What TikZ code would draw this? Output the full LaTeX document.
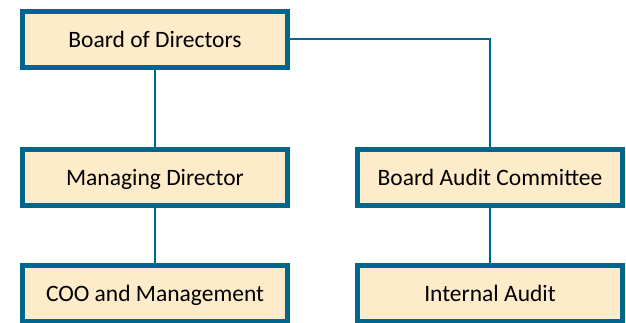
\documentclass[tikz,border=0pt]{standalone}
\usepackage{fontspec}
\setmainfont{Carlito}
\usepackage{tikz}
\usetikzlibrary{positioning}
\definecolor{boxborder}{RGB}{0,102,142}
\definecolor{boxfill}{RGB}{253,235,201}

\begin{document}
\begin{tikzpicture}[
				x=1pt, y=-1pt,
				font=\fontsize{23.5}{27}\selectfont,
				orgbox/.style={
					draw=boxborder,
					fill=boxfill,
					rectangle,
					line width=5pt,
					align=center,
					minimum width=265pt,
					minimum height=56pt,
					text height=16pt,
					text depth=0pt,
					inner sep=4pt
				},
				link/.style={draw=boxborder, line width=2pt}
				]
				
				\useasboundingbox (0,0) rectangle (626,323);
				
				% Columna izquierda
				\node[orgbox] (board) at (155,39.5) {Board of Directors};
				\node[orgbox] (md) at (155,177.5) {Managing Director};
				\node[orgbox] (coo) at (155,293) {COO and Management};
				
				% Columna derecha
				\node[orgbox] (audcom) at (490,177.5) {Board Audit Committee};
				\node[orgbox] (intaud) at (490,293) {Internal Audit};
				
				% Lineas
				\draw[link] (board.south) -- (md.north);
				\draw[link] (md.south) -- (coo.north);
				\draw[link] (board.east) -| (audcom.north);
				\draw[link] (audcom.south) -- (intaud.north);
				
			\end{tikzpicture}
\end{document}
